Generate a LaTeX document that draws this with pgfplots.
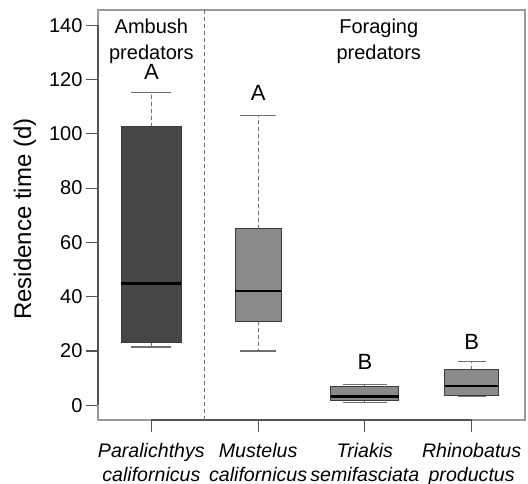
\documentclass[border=0pt]{standalone}
\usepackage{pgfplots}
\pgfplotsset{compat=1.18}
\usepgfplotslibrary{statistics}
\usepackage{fontspec}
\setmainfont{Liberation Sans}
\definecolor{darkbox}{HTML}{474747}
\definecolor{lightbox}{HTML}{8A8A8A}
\definecolor{boxedge}{HTML}{3C3C3C}
\definecolor{spine}{HTML}{9A9A9A}
\definecolor{spinedark}{HTML}{555555}
\definecolor{whisk}{HTML}{707070}
\begin{document}
\begin{tikzpicture}[x=1pt,y=1pt]
\useasboundingbox (-98,-64) rectangle (430,420);
\begin{axis}[
  at={(0,0)}, anchor=south west,
  scale only axis, width=427pt, height=410pt,
  xmin=0.5, xmax=4.5, ymin=-5.4, ymax=145.6,
  clip=false,
  axis line style={draw=spine, line width=1.1pt},
  xtick={1,2,3,4},
  xticklabels={{Paralichthys\\californicus},{Mustelus\\californicus},{Triakis\\semifasciata},{Rhinobatus\\productus}},
  xticklabel style={align=center, font=\fontsize{19.6}{23.4}\selectfont\itshape, yshift=-8pt},
  ytick={0,20,...,140},
  yticklabel style={font=\fontsize{20}{24}\selectfont},
  /pgf/number format/assume math mode=true,
  tick align=outside, major tick length=12pt,
  xtick pos=left, ytick pos=left,
  tick style={draw=spinedark, line width=1.2pt},
  ylabel={Residence time (d)},
  ylabel style={font=\fontsize{24}{28}\selectfont, at={(axis description cs:-0.171,0.49)}, anchor=center},
  boxplot/draw direction=y,
  boxplot/every box/.style={draw=boxedge, line width=0.9pt},
  boxplot/every median/.style={draw=black, line width=2.6pt},
  boxplot/draw/lower whisker/.code={%
    \draw[whisk, line width=1pt, dash pattern=on 4pt off 3pt] (boxplot box cs:\pgfplotsboxplotvalue{lower quartile},0.5) -- (boxplot box cs:\pgfplotsboxplotvalue{lower whisker},0.5);
    \draw[whisk, line width=1.1pt] (boxplot whisker cs:\pgfplotsboxplotvalue{lower whisker},0) -- (boxplot whisker cs:\pgfplotsboxplotvalue{lower whisker},1);
  },
  boxplot/draw/upper whisker/.code={%
    \draw[whisk, line width=1pt, dash pattern=on 4pt off 3pt] (boxplot box cs:\pgfplotsboxplotvalue{upper quartile},0.5) -- (boxplot box cs:\pgfplotsboxplotvalue{upper whisker},0.5);
    \draw[whisk, line width=1.1pt] (boxplot whisker cs:\pgfplotsboxplotvalue{upper whisker},0) -- (boxplot whisker cs:\pgfplotsboxplotvalue{upper whisker},1);
  },
]
% darker axis segments (R style)
\draw[spinedark, line width=1.2pt] (axis cs:1,-5.4) -- (axis cs:4,-5.4);
\draw[spinedark, line width=1.2pt] (axis cs:0.5,0) -- (axis cs:0.5,140);
% divider
\draw[whisk, line width=1pt, dash pattern=on 4pt off 3pt] (axis cs:1.5,-5.4) -- (axis cs:1.5,145.6);

\addplot[fill=darkbox, draw=boxedge, boxplot prepared={draw position=1,
  lower whisker=21.5, lower quartile=23.3, median=44.8, upper quartile=102.6, upper whisker=115.3,
  box extend=0.562, whisker extend=0.375}] coordinates {};
\addplot[fill=lightbox, draw=boxedge, boxplot prepared={draw position=2,
  lower whisker=20.0, lower quartile=30.9, median=42.1, upper quartile=65.0, upper whisker=106.7,
  box extend=0.431, whisker extend=0.337}] coordinates {};
\addplot[fill=lightbox, draw=boxedge, boxplot prepared={draw position=3,
  lower whisker=1.2, lower quartile=1.8, median=3.3, upper quartile=7.0, upper whisker=7.8,
  box extend=0.637, whisker extend=0.412}] coordinates {};
\addplot[fill=lightbox, draw=boxedge, boxplot prepared={draw position=4,
  lower whisker=3.1, lower quartile=3.5, median=7.1, upper quartile=13.1, upper whisker=16.3,
  box extend=0.5, whisker extend=0.262}] coordinates {};

\node[font=\fontsize{22}{24}\selectfont] at (axis cs:1,122.8) {A};
\node[font=\fontsize{22}{24}\selectfont] at (axis cs:2,115.0) {A};
\node[font=\fontsize{22}{24}\selectfont] at (axis cs:3,16.0) {B};
\node[font=\fontsize{22}{24}\selectfont] at (axis cs:4,23.3) {B};

\node[font=\fontsize{20}{26}\selectfont, align=center, anchor=north, inner sep=0pt] at (axis cs:1,142.3) {Ambush\\predators};
\node[font=\fontsize{20}{26}\selectfont, align=center, anchor=north, inner sep=0pt] at (axis cs:3.13,142.3) {Foraging\\predators};
\end{axis}
\end{tikzpicture}
\end{document}
